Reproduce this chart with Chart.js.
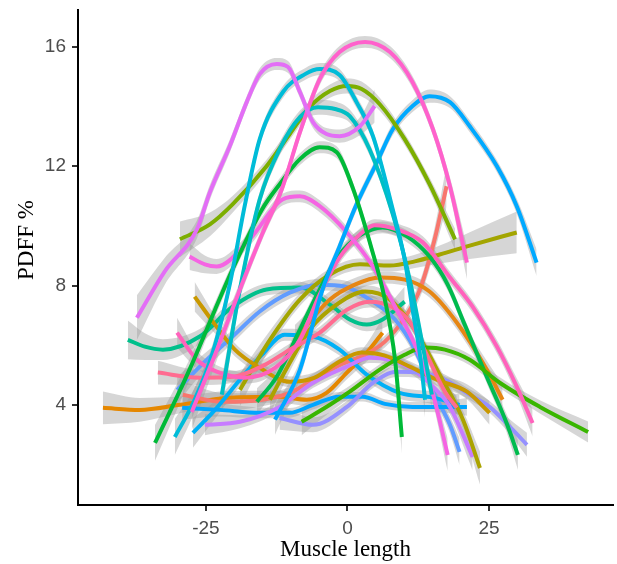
<!DOCTYPE html>
<html>
<head>
<meta charset="utf-8">
<script src="https://cdn.jsdelivr.net/npm/chart.js@4.4.1/dist/chart.umd.min.js"></script>
<style>
html, body { margin: 0; padding: 0; background: #fff; }
</style>
</head>
<body>
<canvas id="myChart" width="617" height="564"></canvas>
<script>
// one smoothed curve per subject: muscle length (x), PDFF % (y), half width of the grey band
const muscleLength = [
  [-37.2,-32.3,-26.6,-24.3,-20.8,-17.8,-15.5,-12.5,-10.5,-8.4,-6.1,-3.7,-1.4,2.2,4.8],
  [-27.5,-23.4,-19.0,-15.1,-11.6,-8.4,-4.9,-1.4,3.1,7.5,11.5,15.1,18.1,21.1],
  [-30.5,-27.0,-23.8,-20.8,-18.1,-15.5,-11.4,-7.5,-4.9,-1.4,1.6,4.5,8.0,10.1,11.5,12.8,13.7],
  [-22.2,-19.0,-15.5,-12.0,-8.4,-5.2,-2.2,0.4,3.9,8.0,11.0,13.1,14.9],
  [-29.6,-24.3,-20.3,-14.3,-10.2,-6.7,-3.1,-0.1,2.5,5.7,10.1,14.5,19.0],
  [-34.0,-27.9,-23.4,-20.3,-15.1,-12.0,-8.4,-4.9,-1.9,0.9,4.3,6.6,8.4,9.6],
  [-12.8,-8.4,-4.4,-1.4,1.6,5.2,8.0,11.5,14.5,18.1,21.6,26.4,29.9,33.4],
  [-27.9,-25.2,-23.1,-17.3,-11.4,-8.4,-4.9,-0.1,4.5,8.7,11.9,14.9,17.7],
  [-30.1,-26.6,-23.1,-18.1,-12.8,-8.4,-4.9,-1.4,2.2,4.8,8.7,13.3,18.1,22.1,26.4,29.9,32.7],
  [-33.5,-26.1,-20.3,-14.6,-10.2,-4.9,-0.1,3.9,7.8,11.0,14.0,17.2,19.3],
  [-8.1,-3.1,0.4,5.7,10.1,13.7,17.2,21.6,26.9,34.0,42.5],
  [-16.0,-12.5,-8.4,-4.9,-1.4,2.2,6.2,10.5,14.5,17.7,20.7,24.6,28.1,30.1],
  [-9.3,-3.1,1.3,5.7,10.1,14.5,19.3,24.6,27.4],
  [-27.0,-23.4,-19.9,-15.5,-10.2,-5.8,-1.4,2.5,6.6,11.0,15.8,21.1,25.1],
  [-19.0,-13.7,-8.4,-3.1,2.2,7.5,11.9,16.3,21.6,29.9],
  [-13.7,-10.2,-6.7,-1.4,3.1,7.5,11.9,16.3,20.4,23.4],
  [-12.0,-6.1,-0.1,4.5,8.7,12.8,17.2,21.6,25.1,28.7,31.7],
  [-25.2,-19.0,-12.0,-6.1,-0.1,3.9,7.5,11.5,15.1,18.1,22.1],
  [-29.2,-22.6,-15.5,-10.2,-6.1,-1.4,2.7,6.6,11.5,16.3,21.1],
  [-27.3,-23.4,-19.0,-15.1,-11.1,-6.1,-1.4,3.4,9.2,15.1,19.8],
  [-30.1,-25.2,-20.3,-15.5,-10.2,-4.9,-0.5,3.9,8.4,11.9,15.4,18.1,19.8],
  [-38.8,-35.8,-32.6,-26.1,-20.3,-14.3,-8.4,-3.1,0.4,3.4,6.2,10.1],
  [-29.1,-22.0,-15.0,-10.2,-6.1,-1.4,3.1,6.6,10.1,12.8,15.4,17.5],
  [-43.2,-36.7,-29.6,-20.8,-12.0,-7.2,-3.7,-0.1,3.4,6.2]
];

const pdff = [
  [6.92,8.47,9.88,11.13,12.67,14.15,15.09,15.43,15.33,14.49,13.48,13.08,13.01,13.34,14.02],
  [3.76,5.68,7.87,9.71,11.23,13.14,14.92,15.83,16.17,15.83,14.82,13.24,11.33,8.77],
  [2.92,4.17,5.75,8.03,10.72,12.91,14.49,15.09,15.26,15.06,14.15,13.01,10.55,8.87,7.19,5.68,4.17],
  [4.34,7.87,10.89,12.57,13.65,13.98,13.92,13.68,12.57,10.39,8.20,6.18,4.34],
  [9.55,10.05,10.72,12.00,13.08,13.98,14.52,14.69,14.59,14.08,12.91,11.40,9.55],
  [2.72,5.18,7.19,8.54,10.55,11.39,12.24,12.64,12.47,11.29,9.21,7.53,5.51,2.92],
  [3.50,5.18,7.87,9.31,10.72,12.13,13.24,14.02,14.35,14.15,13.34,12.00,10.66,8.77],
  [8.97,8.71,8.64,9.55,10.89,10.99,10.66,9.78,8.64,7.19,6.02,4.50,2.32],
  [6.42,5.51,5.11,4.91,5.24,6.18,7.70,8.94,9.71,10.02,9.88,9.45,8.27,7.29,5.95,4.61,3.39],
  [5.08,4.91,4.94,5.34,5.85,6.42,7.19,7.46,7.29,6.79,5.68,4.44,3.90],
  [3.43,4.00,4.44,5.18,5.68,5.92,5.85,5.51,4.74,3.93,3.09],
  [4.10,4.94,6.52,7.87,9.04,9.68,9.95,9.65,8.97,8.03,6.69,4.94,3.39,2.32],
  [6.18,7.53,8.03,8.27,8.20,7.80,6.76,5.18,4.17],
  [7.63,6.69,5.85,5.24,4.77,4.91,5.45,5.75,5.65,5.28,4.84,4.44,3.73],
  [4.50,6.18,7.53,8.37,8.71,8.67,8.81,9.04,9.34,9.78],
  [4.17,5.41,6.52,7.43,7.80,7.53,6.52,5.01,3.50,1.88],
  [3.56,3.33,3.93,4.74,5.11,5.08,4.84,4.34,3.93,3.26,2.66],
  [3.33,3.43,3.93,4.74,5.28,5.58,5.51,5.18,4.61,3.93,2.25],
  [3.90,3.83,3.73,3.73,4.00,4.27,4.27,4.03,3.93,3.93,3.93],
  [3.06,3.83,4.84,5.68,6.35,6.29,5.85,5.01,4.40,4.24,4.00],
  [4.50,5.45,6.29,7.13,7.76,8.03,7.97,7.53,6.86,5.85,4.34,3.33,2.42],
  [6.18,5.95,5.85,6.29,7.29,7.87,7.93,7.36,6.86,6.69,6.86,7.46],
  [4.34,4.10,4.17,4.40,4.84,5.34,5.68,6.12,6.92,7.87,9.55,11.33],
  [3.90,3.83,4.00,4.24,4.27,4.17,4.40,5.08,5.75,6.42]
];

const seHalf = [
  [0.75,0.45,0.3,0.25,0.22,0.2,0.2,0.2,0.2,0.2,0.2,0.2,0.22,0.3,0.55],
  [0.6,0.35,0.25,0.2,0.2,0.2,0.2,0.2,0.2,0.2,0.2,0.22,0.3,0.55],
  [0.6,0.4,0.3,0.25,0.2,0.2,0.2,0.2,0.2,0.2,0.2,0.2,0.2,0.22,0.25,0.35,0.6],
  [0.55,0.3,0.25,0.22,0.22,0.25,0.25,0.22,0.2,0.2,0.22,0.3,0.5],
  [0.6,0.4,0.28,0.22,0.2,0.2,0.22,0.25,0.25,0.22,0.2,0.22,0.35],
  [0.6,0.35,0.25,0.22,0.2,0.2,0.2,0.2,0.2,0.2,0.2,0.22,0.3,0.55],
  [0.5,0.3,0.22,0.2,0.2,0.2,0.2,0.2,0.22,0.2,0.2,0.2,0.25,0.45],
  [0.45,0.3,0.25,0.22,0.2,0.2,0.2,0.2,0.2,0.2,0.22,0.3,0.55],
  [0.5,0.3,0.22,0.2,0.2,0.2,0.2,0.2,0.2,0.2,0.2,0.2,0.2,0.2,0.22,0.28,0.45],
  [0.4,0.25,0.2,0.2,0.2,0.2,0.2,0.2,0.2,0.2,0.2,0.25,0.4],
  [0.45,0.25,0.2,0.18,0.18,0.18,0.18,0.18,0.18,0.22,0.35],
  [0.45,0.3,0.22,0.2,0.2,0.2,0.2,0.2,0.2,0.2,0.2,0.22,0.3,0.5],
  [0.5,0.28,0.22,0.2,0.2,0.2,0.22,0.3,0.5],
  [0.5,0.3,0.22,0.2,0.18,0.18,0.18,0.18,0.18,0.18,0.2,0.25,0.4],
  [0.55,0.3,0.22,0.2,0.2,0.2,0.22,0.3,0.45,0.7],
  [0.5,0.3,0.22,0.2,0.2,0.2,0.2,0.22,0.3,0.55],
  [0.4,0.25,0.2,0.18,0.18,0.18,0.18,0.18,0.2,0.25,0.4],
  [0.35,0.22,0.18,0.18,0.18,0.18,0.18,0.18,0.2,0.25,0.45],
  [0.4,0.22,0.18,0.16,0.16,0.16,0.16,0.16,0.16,0.18,0.3],
  [0.5,0.3,0.22,0.2,0.2,0.2,0.2,0.2,0.2,0.22,0.35],
  [0.45,0.28,0.22,0.2,0.2,0.2,0.2,0.2,0.2,0.2,0.22,0.28,0.45],
  [0.65,0.45,0.35,0.25,0.22,0.2,0.2,0.2,0.2,0.22,0.3,0.5],
  [0.45,0.3,0.22,0.2,0.2,0.2,0.2,0.2,0.22,0.28,0.4,0.7],
  [0.55,0.4,0.28,0.22,0.2,0.2,0.2,0.22,0.3,0.5]
];

const lineColors = [
  "#E36EF6", "#FF61CC", "#00BCD8", "#00BFC4", "#7CAE00", "#00BA38",
  "#00A9FF", "#F564E3", "#FF62BC", "#FF6C91", "#39B600", "#00BB4E",
  "#E68613", "#C99800", "#A3A500", "#ABA300", "#9590FF", "#C77CFF",
  "#00A5FF", "#00B0F6", "#619CFF", "#00C08B", "#F8766D", "#E58700"
];

const xTicks = [-25, 0, 25];
const yTicks = [4, 8, 12, 16];
const xTitle = "Muscle length";
const yTitle = "PDFF %";

let datasets = [];

// grey bands first (drawn underneath)
for (let i = 0; i < muscleLength.length; i++) {
    let upper = [];
    let lower = [];
    for (let j = 0; j < muscleLength[i].length; j++) {
        upper.push({x: muscleLength[i][j], y: pdff[i][j] + seHalf[i][j]});
        lower.push({x: muscleLength[i][j], y: pdff[i][j] - seHalf[i][j]});
    }
    datasets.push({data: upper, borderWidth: 0, pointRadius: 0, fill: false,
        cubicInterpolationMode: 'monotone', order: 2});
    datasets.push({data: lower, borderWidth: 0, pointRadius: 0, fill: '-1',
        backgroundColor: 'rgba(153,153,153,0.4)',
        cubicInterpolationMode: 'monotone', order: 2});
}

// the coloured lines
for (let i = 0; i < muscleLength.length; i++) {
    let pts = [];
    for (let j = 0; j < muscleLength[i].length; j++) {
        pts.push({x: muscleLength[i][j], y: pdff[i][j]});
    }
    datasets.push({data: pts, borderColor: lineColors[i], borderWidth: 4,
        pointRadius: 0, fill: false, cubicInterpolationMode: 'monotone', order: 1});
}

// y title drawn by hand so it sits where the reference has it
const yTitlePlugin = {
    id: 'yTitlePlugin',
    afterDraw(chart) {
        let c = chart.ctx;
        c.save();
        c.translate(27, 240);
        c.rotate(-Math.PI / 2);
        c.font = '23px "Liberation Serif"';
        c.fillStyle = '#000';
        c.textAlign = 'center';
        c.textBaseline = 'middle';
        c.fillText(yTitle, 0, 0);
        c.restore();
    }
};

let ctx = document.getElementById('myChart').getContext('2d');
let myChart = new Chart(ctx, {
    type: 'line',
    data: {datasets: datasets},
    plugins: [yTitlePlugin],
    options: {
        responsive: false,
        animation: false,
        devicePixelRatio: 1,
        layout: {padding: {top: 10, right: 4, left: 0, bottom: 0}},
        plugins: {legend: {display: false}, tooltip: {enabled: false}},
        scales: {
            x: {
                type: 'linear',
                min: -47.6,
                max: 46.9,
                afterFit: function(s) { s.height = 59; s.paddingLeft = 0; s.paddingRight = 0; },
                afterBuildTicks: function(s) { s.ticks = xTicks.map(v => ({value: v})); },
                ticks: {font: {family: 'Liberation Sans', size: 19}, color: '#4d4d4d', padding: 6, maxRotation: 0},
                grid: {drawOnChartArea: false, drawTicks: true, tickLength: 6, color: '#333', lineWidth: 2},
                border: {display: true, color: '#000', width: 2},
                title: {display: true, text: xTitle, color: '#000',
                    font: {family: 'Liberation Serif', size: 23}, padding: {top: 0, bottom: 0}}
            },
            y: {
                min: 0.64,
                max: 17.24,
                afterFit: function(s) { s.width = 78; s.paddingTop = 0; s.paddingBottom = 0; },
                afterBuildTicks: function(s) { s.ticks = yTicks.map(v => ({value: v})); },
                ticks: {font: {family: 'Liberation Sans', size: 19}, color: '#4d4d4d', padding: 6},
                grid: {drawOnChartArea: false, drawTicks: true, tickLength: 6, color: '#333', lineWidth: 2},
                border: {display: true, color: '#000', width: 2}
            }
        }
    }
});
</script>
</body>
</html>
